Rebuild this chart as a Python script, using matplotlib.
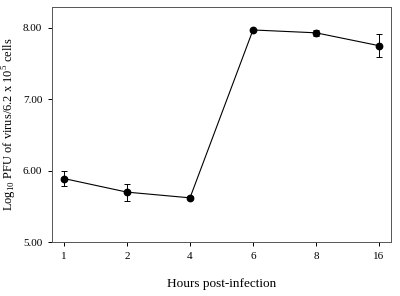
import matplotlib.pyplot as plt
import numpy as np

# data
hours = ['1', '2', '4', '6', '8', '16']
pfu_log = [5.89, 5.70, 5.62, 7.97, 7.93, 7.75]
pfu_err = [0.11, 0.12, 0.02, 0.02, 0.04, 0.16]
y_ticks = [5.00, 6.00, 7.00, 8.00]

plt.rcParams['font.family'] = 'Liberation Serif'
plt.rcParams['mathtext.fontset'] = 'custom'
plt.rcParams['mathtext.rm'] = 'Liberation Serif'

fig = plt.figure(figsize=(4, 2.96), dpi=100)
ax = fig.add_axes([0.13, 0.182, 0.8475, 0.794])

x = np.arange(len(hours))
ax.errorbar(x, pfu_log, yerr=pfu_err, color='black', marker='o', markersize=4.6,
            linewidth=0.8, elinewidth=0.7, capsize=2, capthick=0.7)

ax.set_xlim(-0.19, 5.19)
ax.set_ylim(5.0, 8.29)
ax.set_xticks(x)
ax.set_xticklabels(hours)
ax.set_yticks(y_ticks)
ax.set_yticklabels([f'{v:.2f}' for v in y_ticks])
ax.tick_params(labelsize=8, length=3, width=0.7, direction='out', pad=4)
for s in ax.spines.values():
    s.set_linewidth(0.7)
    s.set_color('#555555')

ax.set_xlabel('Hours post-infection', fontsize=9.5, labelpad=12)
ax.set_ylabel(r'Log$_{10}$ PFU of virus/6.2 x 10$^5$ cells', fontsize=9, labelpad=3)

fig.savefig('out.png', dpi=100)
